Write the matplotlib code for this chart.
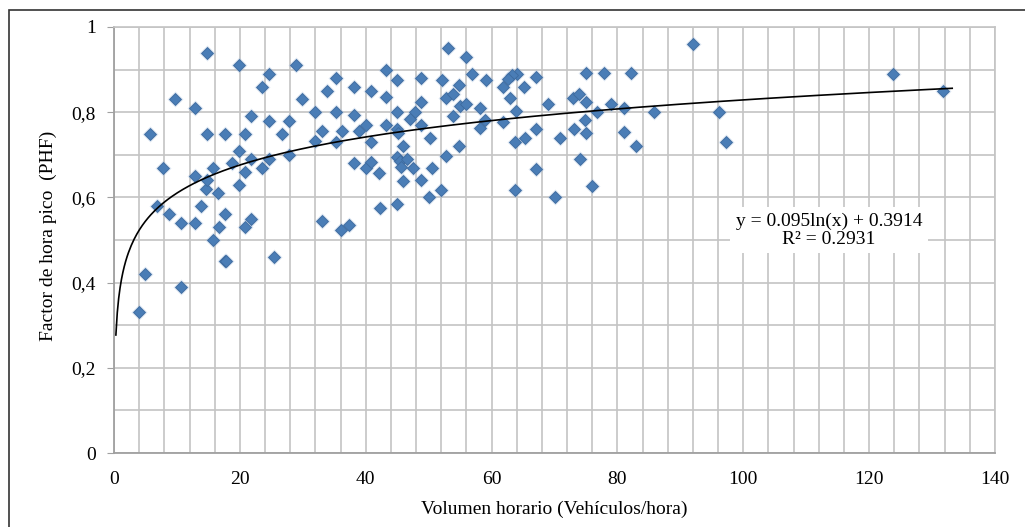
import numpy as np
import matplotlib
matplotlib.use("Agg")
import matplotlib.pyplot as plt
from matplotlib.ticker import MultipleLocator, FuncFormatter
from matplotlib.patches import Rectangle

# volumen horario (veh/h) y factor de hora pico
vol = [3.9, 5.0, 5.8, 6.9, 7.8, 8.8, 9.7, 10.6, 10.6, 12.9, 12.9, 12.9, 13.8, 14.6,
       14.7, 14.7, 14.7, 15.7, 15.7, 16.6, 16.7, 17.6, 17.6, 17.6, 17.8, 18.7, 19.8,
       19.9, 19.9, 20.8, 20.8, 20.8, 21.7, 21.7, 21.7, 23.5, 23.5, 24.6, 24.6, 24.6,
       25.5, 26.7, 27.8, 27.8, 29.0, 29.8,
       53.0, 55.9, 43.2, 35.2, 45.0, 48.8, 52.1, 56.9, 59.1, 33.9, 38.1, 40.9, 43.2,
       52.8, 53.9, 54.9, 48.8, 32.0, 35.2, 38.1, 45.0, 47.8, 47.0, 53.9, 55.0, 55.9,
       58.1, 33.1, 36.2, 39.0, 40.1, 43.2, 45.0, 45.2, 48.8, 58.1, 59.0, 32.0, 35.3,
       40.9, 50.2, 46.0, 54.8, 38.1, 40.0, 40.9, 42.1, 44.9, 45.4, 46.5, 45.6, 47.5,
       50.5, 52.8, 46.0, 48.8, 52.0, 50.1, 42.2, 45.0, 33.1, 36.1, 37.3,
       64.0, 63.2, 62.6, 61.8, 65.2, 67.1, 75.0, 77.9, 82.2, 63.0, 63.9, 61.8, 68.9,
       72.9, 73.9, 75.0, 76.8, 78.9, 81.0, 85.8, 67.1, 74.9, 73.1, 75.0, 81.0, 63.8,
       65.3, 70.8, 82.9, 74.0, 67.1, 63.8, 75.9, 70.0,
       92.0, 96.1, 97.2, 123.8, 131.8]
phf = [0.33, 0.42, 0.75, 0.58, 0.67, 0.56, 0.83, 0.54, 0.39, 0.81, 0.65, 0.54, 0.58, 0.62,
       0.94, 0.75, 0.64, 0.67, 0.50, 0.61, 0.53, 0.75, 0.56, 0.45, 0.45, 0.68, 0.91,
       0.71, 0.63, 0.75, 0.66, 0.53, 0.79, 0.69, 0.55, 0.86, 0.67, 0.89, 0.78, 0.69,
       0.46, 0.75, 0.78, 0.70, 0.91, 0.83,
       0.95, 0.93, 0.90, 0.88, 0.875, 0.88, 0.875, 0.89, 0.875, 0.85, 0.86, 0.85, 0.835,
       0.833, 0.843, 0.863, 0.823, 0.80, 0.80, 0.794, 0.80, 0.80, 0.783, 0.79, 0.815, 0.82,
       0.81, 0.756, 0.756, 0.756, 0.771, 0.771, 0.761, 0.752, 0.771, 0.762, 0.781, 0.732, 0.729,
       0.729, 0.74, 0.721, 0.721, 0.68, 0.668, 0.682, 0.658, 0.696, 0.685, 0.69, 0.672, 0.668,
       0.668, 0.698, 0.639, 0.64, 0.617, 0.60, 0.576, 0.585, 0.544, 0.523, 0.536,
       0.89, 0.887, 0.879, 0.86, 0.86, 0.883, 0.892, 0.892, 0.892, 0.833, 0.803, 0.778, 0.82,
       0.833, 0.843, 0.823, 0.80, 0.82, 0.811, 0.80, 0.76, 0.781, 0.761, 0.752, 0.753, 0.729,
       0.74, 0.74, 0.72, 0.69, 0.667, 0.617, 0.626, 0.60,
       0.96, 0.80, 0.73, 0.89, 0.85]

# linea de tendencia logaritmica
coef_a = 0.095
coef_b = 0.3914
r2 = 0.2931
trend_x = np.linspace(0.3, 133.2, 600)
trend_y = coef_a * np.log(trend_x) + coef_b

plt.rcParams['font.family'] = ['Liberation Serif', 'DejaVu Serif']

fig = plt.figure(figsize=(10.25, 5.27), dpi=100)
ax = fig.add_axes([114 / 1025, 1 - 453 / 527, 881 / 1025, 426 / 527])

grid_col = '#C4C4C4'
ax.set_xlim(0, 140)
ax.set_ylim(0, 1)
ax.xaxis.set_major_locator(MultipleLocator(20))
ax.xaxis.set_minor_locator(MultipleLocator(4))
ax.yaxis.set_major_locator(MultipleLocator(0.2))
ax.yaxis.set_minor_locator(MultipleLocator(0.1))
ax.grid(which='both', color=grid_col, linewidth=1.2)
ax.set_axisbelow(True)

ax.yaxis.set_major_formatter(FuncFormatter(lambda v, p: ('%g' % round(v, 2)).replace('.', ',')))
ax.tick_params(axis='x', which='both', length=0, pad=13, labelsize=14)
ax.tick_params(axis='y', which='major', length=5, color='#A0A0A0', pad=8, labelsize=14)
ax.tick_params(axis='y', which='minor', length=0)

for s in ['left', 'bottom']:
    ax.spines[s].set_color('#A0A0A0')
    ax.spines[s].set_linewidth(1.3)
for s in ['top', 'right']:
    ax.spines[s].set_color(grid_col)
    ax.spines[s].set_linewidth(1.2)

# puntos con un leve halo
ax.plot(vol, phf, 'D', ms=7.8, color='#9DB8DA', alpha=0.35, mec='none')
ax.plot(vol, phf, 'D', ms=5.8, color='#4A7DB6', mec='#3D6A9E', mew=0.6)

ax.plot(trend_x, trend_y, color='black', linewidth=1.2)

ax.text(113.6, 0.523, 'y = %.3fln(x) + %.4f\nR² = %.4f' % (coef_a, coef_b, r2),
        ha='center', va='center', fontsize=14, linespacing=1.05,
        bbox=dict(facecolor='white', edgecolor='none', pad=4))

ax.set_xlabel('Volumen horario (Vehículos/hora)', fontsize=14, labelpad=9)
ax.set_ylabel('Factor de hora pico  (PHF)', fontsize=14)
ax.yaxis.set_label_coords(-0.065, 0.51)

# marco exterior (sigue fuera del recorte a la derecha y abajo)
fig.patches.append(Rectangle((9 / 1025, -0.05), 1.2, 1.05 - 10 / 527,
                             transform=fig.transFigure, fill=False,
                             edgecolor='#333333', linewidth=1.2))

fig.savefig('out.png', dpi=100)
